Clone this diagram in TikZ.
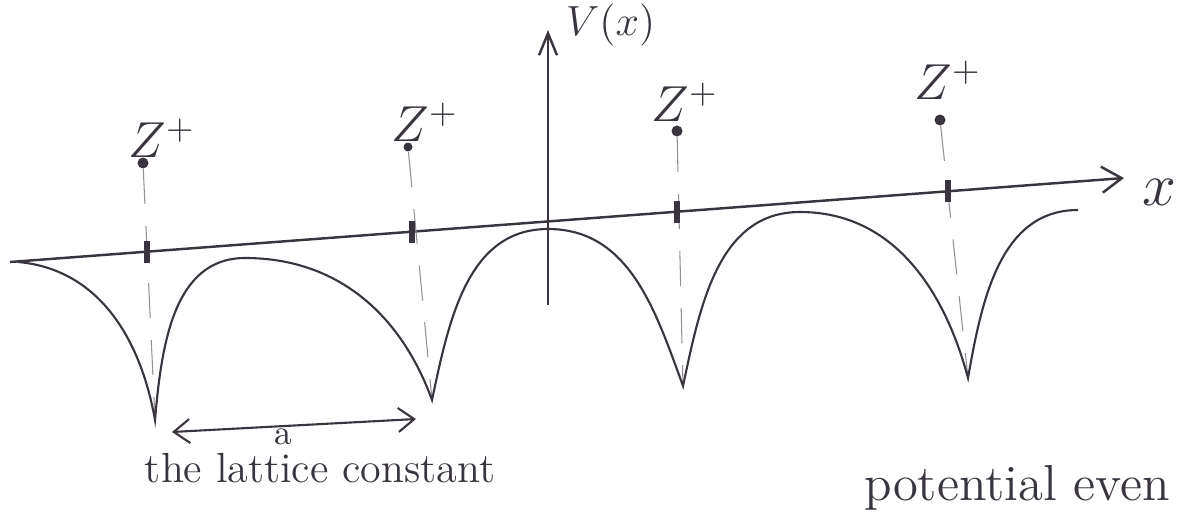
\documentclass[tikz,border=0pt]{standalone}
\usepackage{amsmath,amssymb}
\usepackage{xcolor}
\usepackage{tikz}
\usetikzlibrary{arrows.meta,calc}
\definecolor{pen}{RGB}{58,52,62}

\begin{document}
\begin{tikzpicture}[x=0.1mm, y=-0.1mm,
  axis/.style={line width=0.7pt, draw=pen},
  pot/.style={line width=0.6pt, draw=pen},
  guide/.style={line width=0.3pt, draw=pen!55, dash pattern=on 3.5mm off 2.2mm},
  tickmark/.style={line width=1.6pt, draw=pen},
  ion/.style={circle, fill=pen, inner sep=0pt, minimum size=1.1mm},
  lbl/.style={text=pen, font=\large, inner sep=1pt}
]
  \useasboundingbox (0,0) rectangle (1177,513);

  % axes
  \coordinate (xl) at (10,262);
  \coordinate (xr) at (1124,178);
  \coordinate (yb) at (548,305);
  \coordinate (yt) at (548,30);
  \draw[axis, -{Straight Barb[length=2mm,width=2.6mm]}] (xl) -- (xr);
  \draw[axis, -{Straight Barb[length=2.2mm,width=1.8mm]}] (yb) -- (yt);
  \node[lbl, font=\LARGE, anchor=west] (xlab) at (1138,192) {$x$};
  \node[lbl, anchor=west] (vlab) at (562,25) {$V(x)$};

  % ions and wells
  \node[ion] (ion1) at (143,163) {};
  \node[ion, minimum size=0.9mm] (ion2) at (408,147) {};
  \node[ion] (ion3) at (677,131) {};
  \node[ion] (ion4) at (940,120) {};
  \coordinate (w1) at (155,420);
  \coordinate (w2) at (432,400);
  \coordinate (w3) at (683,386);
  \coordinate (w4) at (968,378);
  \node[lbl, font=\Large] (z1) at (162,138) {$Z^{+}$};
  \node[lbl, font=\Large] (z2) at (425,122) {$Z^{+}$};
  \node[lbl, font=\Large] (z3) at (685,102) {$Z^{+}$};
  \node[lbl, font=\Large] (z4) at (948,80) {$Z^{+}$};

  \foreach \i in {1,...,4}
    \draw[guide] (ion\i) -- (w\i);

  % ticks on the x axis
  \coordinate (t1) at ($(xl)!0.123!(xr)$);
  \coordinate (t2) at ($(xl)!0.361!(xr)$);
  \coordinate (t3) at ($(xl)!0.599!(xr)$);
  \coordinate (t4) at ($(xl)!0.842!(xr)$);
  \foreach \i in {1,...,4}
    \draw[tickmark] (t\i) ++(0,-11) -- ++(0,22);

  % potential
  \coordinate (c0) at (18,262);
  \coordinate (p1) at (245,258);
  \coordinate (p2) at (548,229);
  \coordinate (p3) at (800,212);
  \coordinate (c5) at (1078,210);
  \draw[pot] (c0) to[out=-5,in=100] (w1) to[out=85,in=180] (p1)
    to[out=0,in=110] (w2) to[out=78,in=180] (p2)
    to[out=0,in=110] (w3) to[out=78,in=180] (p3)
    to[out=0,in=105] (w4) to[out=80,in=180] (c5);

  % lattice constant
  \coordinate (a1) at (172,432);
  \coordinate (a2) at (416,419);
  \draw[pot, {Straight Barb[length=1.6mm,width=2.4mm]}-{Straight Barb[length=1.6mm,width=2.4mm]}] (a1) -- (a2);
  \node[lbl, font=\normalsize] (alab) at (283,437) {a};
  \node[lbl, anchor=base] (lc) at (320,482) {the lattice constant};
  \node[lbl, font=\Large, anchor=base west] (pe) at (860,500) {potential even};
\end{tikzpicture}
\end{document}
